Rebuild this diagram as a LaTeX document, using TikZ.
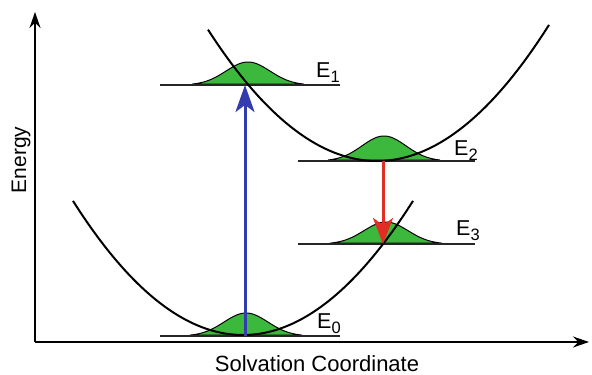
\documentclass[tikz,border=0pt]{standalone}
\usepackage{fontspec}
\setmainfont{Liberation Sans}
\usetikzlibrary{arrows.meta}
\definecolor{gauss}{RGB}{60,185,60}
\definecolor{bluear}{RGB}{50,60,175}
\definecolor{redar}{RGB}{225,45,35}
\newcommand{\Elab}[1]{E\raisebox{-5.5pt}{\fontsize{16.5}{16}\selectfont #1}}
\begin{document}
\begin{tikzpicture}[x=1pt,y=-1pt,
  axis/.style={line width=2pt,-{Stealth[length=16pt,width=11pt]}},
  curve/.style={line width=2pt,black},
  level/.style={line width=1.3pt,black!85},
  gaussfill/.style={fill=gauss,draw=black,line width=1pt},
  lab/.style={font=\fontsize{21.5}{25}\selectfont,inner sep=0pt,anchor=base west},
  trans/.style={line width=3pt}]
\useasboundingbox (0,0) rectangle (592,375);
% coordinates
\coordinate (origin) at (35,342);
\coordinate (ytop) at (35,12);
\coordinate (xend) at (589,342);
\coordinate (e0c) at (245,336);
\coordinate (e1c) at (245,85);
\coordinate (e2c) at (383,161);
\coordinate (e3c) at (383,244);
% gaussians
\filldraw[gaussfill] plot[domain=-56:56,samples=60] ({248+\x},{85-23*exp(-(\x)^2/(2*22^2))}) -- cycle;
\filldraw[gaussfill] plot[domain=-56:56,samples=60] ({384+\x},{161-25*exp(-(\x)^2/(2*22^2))}) -- cycle;
\filldraw[gaussfill] plot[domain=-56:56,samples=60] ({386+\x},{244-22*exp(-(\x)^2/(2*22^2))}) -- cycle;
\filldraw[gaussfill] plot[domain=-56:56,samples=60] ({246+\x},{336-23*exp(-(\x)^2/(2*22^2))}) -- cycle;
% levels
\draw[level] (160,85) -- (340,85);
\draw[level] (298,161) -- (475,161);
\draw[level] (298,244) -- (475,244);
\draw[level] (160,336) -- (340,336);
% parabolas
\draw[curve] plot[domain=73:413,samples=100] (\x,{335-0.464*((\x-243)/10)^2});
\draw[curve] plot[domain=208:549,samples=100] (\x,{161-0.46*((\x-377)/10)^2});
% axes
\draw[axis] (origin) -- (ytop);
\draw[axis] (origin) -- (xend);
% transitions
\draw[trans,bluear,-{Stealth[length=27pt,width=19pt,inset=7pt]}] (e0c) -- (e1c);
\draw[trans,redar,-{Stealth[length=26pt,width=20pt,inset=7pt]}] (e2c) -- (e3c);
% labels
\node[lab] (l1) at (316,77) {\Elab{1}};
\node[lab] (l2) at (454,155) {\Elab{2}};
\node[lab] (l3) at (456,235) {\Elab{3}};
\node[lab] (l0) at (317,328) {\Elab{0}};
\node[font=\fontsize{21}{25}\selectfont,inner sep=0pt,anchor=base,rotate=90] (ylab) at (26,160) {Energy};
\node[font=\fontsize{22}{26}\selectfont,inner sep=0pt,anchor=base] (xlab) at (317,371) {Solvation Coordinate};
\end{tikzpicture}
\end{document}
